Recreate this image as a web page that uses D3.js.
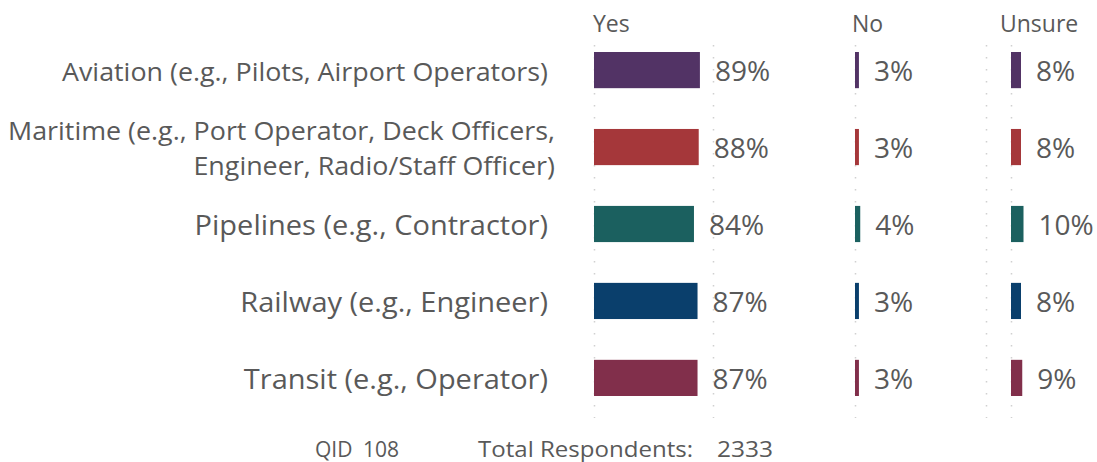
<!DOCTYPE html>
<html><head><meta charset="utf-8">
<script src="https://cdn.jsdelivr.net/npm/d3@7"></script>
<style>body{margin:0;background:#fff}svg{display:block}text{font-family:"Open Sans",sans-serif;fill:#595959}</style>
</head><body><svg id="c" width="1097" height="462"></svg>
<script>
const categories = ["Aviation (e.g., Pilots, Airport Operators)",
  "Maritime (e.g., Port Operator, Deck Officers,|Engineer, Radio/Staff Officer)",
  "Pipelines (e.g., Contractor)", "Railway (e.g., Engineer)", "Transit (e.g., Operator)"];
const yesValues = [89, 88, 84, 87, 87];
const noValues = [3, 3, 4, 3, 3];
const unsureValues = [8, 8, 10, 8, 9];
const colors = ["#523365", "#a5373a", "#1b605f", "#0a3f6c", "#812f4b"];
const panelTitles = ["Yes", "No", "Unsure"];
const qid = "108";
const totalRespondents = "2333";

const svg = d3.select("#c");
function stretch(sel, k) {
  sel.each(function() {
    const w = this.getComputedTextLength();
    d3.select(this).attr("textLength", w * k).attr("lengthAdjust", "spacingAndGlyphs");
  });
}
const y = d3.scaleBand().domain(categories).range([32, 416]).paddingInner(0.53).paddingOuter(0.26);
const panels = [
  {title: panelTitles[0], values: yesValues, x: d3.scaleLinear().domain([0,100]).range([594,713]), grid:[0,100], tx: 593},
  {title: panelTitles[1], values: noValues, x: d3.scaleLinear().domain([0,100]).range([855,986]), grid:[0,100], tx: 852},
  {title: panelTitles[2], values: unsureValues, x: d3.scaleLinear().domain([0,100]).range([1011,1136]), grid:[0], tx: 1000}
];
// gridlines
panels.forEach(p => {
  p.grid.forEach(g => {
    svg.append("line").attr("x1", p.x(g)+0.5).attr("x2", p.x(g)+0.5).attr("y1", 45).attr("y2", 418)
      .attr("stroke", "#d0d0d0").attr("stroke-width", 1.5).attr("stroke-dasharray", "1.5 10.5");
  });
});
// titles
panels.forEach(p => {
  svg.append("text").attr("x", p.tx).attr("y", 32).attr("font-size", 23).text(p.title);
});
// bars & value labels
panels.forEach(p => {
  svg.selectAll(null).data(categories).enter().append("rect")
    .attr("x", p.x(0)).attr("y", d => y(d)).attr("height", y.bandwidth())
    .attr("width", (d,i) => p.x(p.values[i]) - p.x(0)).attr("fill", (d,i) => colors[i]);
  svg.selectAll(null).data(categories).enter().append("text")
    .attr("x", (d,i) => p.x(p.values[i]) + 15).attr("y", d => y(d) + y.bandwidth()/2 + 11)
    .attr("font-size", 28).text((d,i) => p.values[i] + "%");
});
// category labels
categories.forEach((c, i) => {
  const lines = c.split("|");
  const cy = y(c) + y.bandwidth()/2;
  const fs = i >= 2 ? 27 : 25;
  lines.forEach((ln, j) => {
    const by = lines.length > 1 ? cy - 7 + j * 35 : cy + (i >= 2 ? 11 : 11);
    svg.append("text").attr("class", "cat").attr("x", lines.length>1 ? 555 : 548).attr("y", by)
      .attr("text-anchor", "end").attr("font-size", fs).text(ln);
  });
});
const avW = svg.select("text.cat").node().getComputedTextLength();
stretch(svg.selectAll("text.cat"), 486 / avW);
// footer
svg.append("text").attr("x", 315).attr("y", 457).attr("font-size", 21).text("QID");
svg.append("text").attr("x", 363).attr("y", 457).attr("font-size", 21).text(qid);
const tr = svg.append("text").attr("x", 478).attr("y", 457).attr("font-size", 21).text("Total Respondents:");
stretch(tr, 215 / tr.node().getComputedTextLength());
const tn = svg.append("text").attr("x", 717).attr("y", 457).attr("font-size", 21).text(totalRespondents);
stretch(tn, 56 / tn.node().getComputedTextLength());
</script></body></html>
